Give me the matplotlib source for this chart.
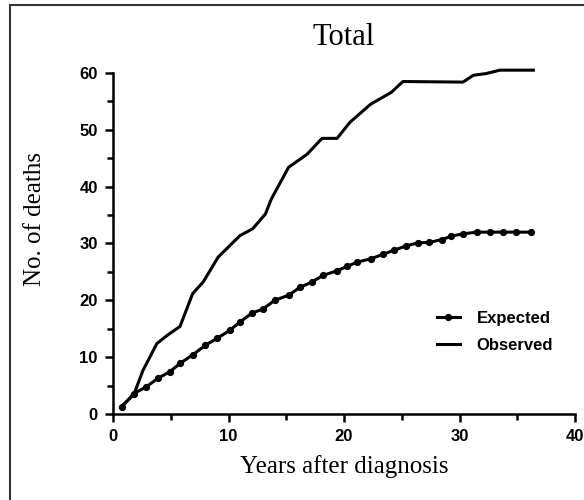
import matplotlib
matplotlib.use("Agg")
import matplotlib.pyplot as plt
from matplotlib.patches import Rectangle

# expected deaths (roughly one point per year)
exp_years = [0.8, 1.8, 2.9, 3.9, 4.9, 5.8, 6.9, 8.0, 9.0, 10.1, 11.0, 12.0, 13.0, 14.0,
             15.2, 16.2, 17.2, 18.2, 19.4, 20.3, 21.1, 22.3, 23.4, 24.3, 25.4, 26.4,
             27.4, 28.5, 29.3, 30.3, 31.5, 32.6, 33.8, 34.9, 36.2]
expected = [1.3, 3.6, 4.8, 6.3, 7.4, 8.9, 10.4, 12.1, 13.3, 14.7, 16.2, 17.7, 18.5, 20.0,
            20.9, 22.3, 23.2, 24.4, 25.2, 26.0, 26.7, 27.3, 28.1, 28.8, 29.6, 30.1,
            30.2, 30.7, 31.3, 31.7, 32.0, 32.0, 32.0, 32.0, 32.0]

# observed deaths
obs_years = [0.7, 1.8, 2.6, 3.8, 4.8, 5.8, 6.9, 7.8, 9.1, 11.0, 12.1, 13.2, 13.7,
             15.2, 16.8, 18.1, 19.4, 20.5, 22.3, 24.1, 25.1, 30.3, 31.2, 32.3, 33.5, 36.4]
observed = [1.3, 3.4, 7.7, 12.4, 14.0, 15.4, 21.2, 23.2, 27.6, 31.4, 32.6, 35.2, 37.8,
            43.4, 45.7, 48.5, 48.5, 51.3, 54.5, 56.6, 58.5, 58.4, 59.6, 59.9, 60.5, 60.5]

xticks = [0, 10, 20, 30, 40]
yticks = [0, 10, 20, 30, 40, 50, 60]

fig = plt.figure(figsize=(5.84, 5.0), dpi=100)
ax = fig.add_axes([113 / 584, 1 - 414 / 500, (575 - 113) / 584, (414 - 73) / 500])

ax.plot(exp_years, expected, color='black', lw=2.2, marker='o', ms=4.2,
        clip_on=False, label='Expected')
ax.plot(obs_years, observed, color='black', lw=2.2, clip_on=False, label='Observed')

ax.set_xlim(0, 40)
ax.set_ylim(0, 60)
ax.set_xticks(xticks)
ax.set_yticks(yticks)
ax.set_xticks([5, 15, 25, 35], minor=True)
ax.set_yticks([5, 15, 25, 35, 45, 55], minor=True)

for s in ['top', 'right']:
    ax.spines[s].set_visible(False)
for s in ['left', 'bottom']:
    ax.spines[s].set_linewidth(1.8)

ax.tick_params(which='major', direction='out', length=6, width=1.8, pad=5)
ax.tick_params(which='minor', direction='out', length=4, width=1.8)
for lab in ax.get_xticklabels() + ax.get_yticklabels():
    lab.set_fontfamily('Liberation Sans')
    lab.set_fontweight('bold')
    lab.set_fontsize(12)

ax.set_title('Total', family='Liberation Serif', fontsize=22, pad=20)
ax.set_xlabel('Years after diagnosis', family='Liberation Serif', fontsize=18, labelpad=8)
ax.set_ylabel('No. of deaths', family='Liberation Serif', fontsize=18)
ax.yaxis.set_label_coords(-0.145, 0.572)

leg = ax.legend(loc='lower right', bbox_to_anchor=(0.985, 0.135), frameon=False,
                prop={'family': 'Liberation Sans', 'weight': 'bold', 'size': 12},
                handlelength=1.4, handletextpad=1.0, labelspacing=0.7)

# scanned figure border
fig.patches.append(Rectangle((10 / 584, -0.02), 1.0, 1 - 5 / 500 + 0.02, transform=fig.transFigure,
                             fill=False, edgecolor='#333333', lw=1.5))

fig.savefig('out.png', dpi=100)
